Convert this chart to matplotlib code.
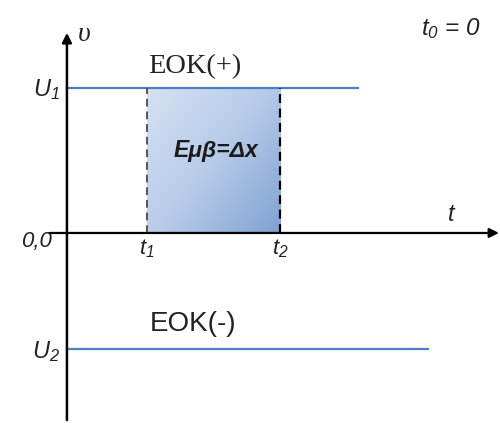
import numpy as np
import matplotlib.pyplot as plt
from matplotlib.colors import LinearSegmentedColormap

plt.rcParams['mathtext.fontset'] = 'custom'
plt.rcParams['mathtext.it'] = 'Liberation Sans:italic'
plt.rcParams['mathtext.rm'] = 'Liberation Sans:italic'

# values
t1, t2 = 3.0, 8.0
u1, u2 = 5.0, -4.0
t_end_u1 = 10.9
t_end_u2 = 13.55

fig = plt.figure(figsize=(5.0, 4.23), dpi=100)
ax = fig.add_axes([0, 0, 1, 1])
ax.set_xlim(-2.51, 16.24)
ax.set_ylim(-6.55, 8.03)
ax.axis('off')

# shaded area between t1 and t2, light top-left to darker bottom-right
cmap = LinearSegmentedColormap.from_list('blu', ['#d6e1f3', '#b7cbe9', '#7fa2d2'])
gx, gy = np.meshgrid(np.linspace(0, 1, 200), np.linspace(0, 1, 200))
grad = 0.55 * gx + 0.45 * gy
ax.imshow(grad, extent=[t1, t2, 0, u1], cmap=cmap, aspect='auto',
          origin='upper', zorder=1, vmin=0, vmax=1)

# axes with arrows
ax.annotate('', xy=(16.2, 0), xytext=(-0.65, 0),
            arrowprops=dict(arrowstyle='-|>', color='black', lw=1.6,
                            mutation_scale=14, shrinkA=0, shrinkB=0), zorder=5)
ax.annotate('', xy=(0, 6.9), xytext=(0, -6.45),
            arrowprops=dict(arrowstyle='-|>', color='black', lw=1.8,
                            mutation_scale=14, shrinkA=0, shrinkB=0), zorder=5)

# levels
blue = '#4a7fc1'
ax.plot([0, t_end_u1], [u1, u1], color=blue, lw=1.6, zorder=3)
ax.plot([0, t_end_u2], [u2, u2], color=blue, lw=1.6, zorder=3)

# dashed verticals
ax.plot([t1, t1], [0, u1], color='#555555', lw=1.4, ls=(0, (4, 2.5)), zorder=4)
ax.plot([t2, t2], [0, u1], color='black', lw=1.6, ls=(0, (4, 2.5)), zorder=4)

# texts
ax.text(0.4, 6.85, 'υ', fontsize=20, family='Liberation Serif', style='italic',
        color='#222222', ha='left', va='center')
ax.text(4.8, 5.75, 'EOK(+)', fontsize=20.5, family='Liberation Serif',
        color='#222222', ha='center', va='center')
ax.text(15.5, 7.05, r'$t_{0}$ = 0', fontsize=17.5, family='Liberation Sans',
        style='italic', color='#222222', ha='right', va='center')
ax.text(-0.25, u1 - 0.05, r'$U_{1}$', fontsize=17, color='#222222',
        ha='right', va='center')
ax.text(-0.55, -0.3, '0,0', fontsize=16, family='Liberation Sans', style='italic',
        color='#222222', ha='right', va='center')
ax.text(t1, -0.55, r'$t_{1}$', fontsize=16, color='#222222', ha='center', va='center')
ax.text(t2, -0.55, r'$t_{2}$', fontsize=16, color='#222222', ha='center', va='center')
ax.text(14.4, 0.62, 't', fontsize=17, family='Liberation Sans', style='italic',
        color='#222222', ha='center', va='center')
ax.text(-0.25, u2 - 0.1, r'$U_{2}$', fontsize=17, color='#222222',
        ha='right', va='center')
ax.text(4.72, u2 + 0.85, 'EOK(-)', fontsize=20, family='Liberation Sans',
        color='#222222', ha='center', va='center')
ax.text(5.6, 2.85, 'Eμβ=Δx', fontsize=16.5, family='Liberation Sans',
        weight='bold', style='italic', color='#1a1a1a', ha='center', va='center', zorder=6)

fig.savefig('out.png', dpi=100, facecolor='white')
